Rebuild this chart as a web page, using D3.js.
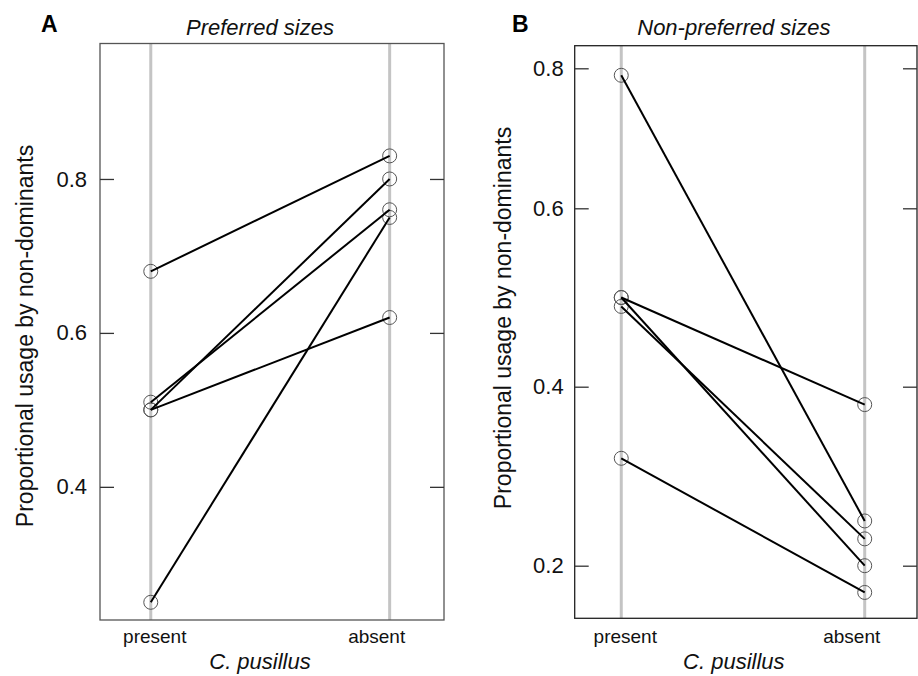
<html lang='en'>
    <head>
        <meta charset='utf-8'>
        <title>Proportional usage by non-dominants</title>
        <script src="https://d3js.org/d3.v7.min.js"></script>
        <style>
            body { margin: 0; background: #fff; }
            text { font-family: "Liberation Sans", Arial, sans-serif; fill: #111; }
        </style>
    </head>
    <body>
        <script>
            // categories on the x axis
            var groups = ["present", "absent"];

            // panel A: preferred sizes, one value per replicate in each group
            var prefPresent = [0.68, 0.51, 0.50, 0.50, 0.25];
            var prefAbsent  = [0.83, 0.76, 0.80, 0.62, 0.75];
            var prefTicks   = [0.4, 0.6, 0.8];

            // panel B: non-preferred sizes
            var nonPresent  = [0.79, 0.50, 0.50, 0.49, 0.32];
            var nonAbsent   = [0.25, 0.38, 0.20, 0.23, 0.17];
            var nonTicks    = [0.2, 0.4, 0.6, 0.8];

            var panelLetters = ["A", "B"];
            var panelTitles  = ["Preferred sizes", "Non-preferred sizes"];
            var yTitle = "Proportional usage by non-dominants";
            var xTitle = "C. pusillus";

            var width = 918;
            var height = 676;

            var svg = d3.select('body')
                        .append('svg')
                        .attr('width', width)
                        .attr('height', height);

            //layout of the two panels
            var panels = [
                {
                    letter: panelLetters[0], title: panelTitles[0],
                    present: prefPresent, absent: prefAbsent, ticks: prefTicks,
                    left: 100, right: 444, top: 43.5, bottom: 620,
                    pad: 0.22, align: 0.483, labelPad: 13,
                    yLabelX: 33, yLabelY: 336, letterX: 41,
                    boxColor: '#555',
                    y: d3.scaleLinear().domain([0.227, 0.976]).range([620, 43.5])
                },
                {
                    letter: panelLetters[1], title: panelTitles[1],
                    present: nonPresent, absent: nonAbsent, ticks: nonTicks,
                    left: 574.7, right: 917, top: 45.7, bottom: 618.3,
                    pad: 0.203, align: 0.471, labelPad: 11,
                    yLabelX: 511, yLabelY: 318, letterX: 512,
                    boxColor: '#222',
                    // the printed axis is not evenly spaced, so it is piecewise
                    y: d3.scaleLinear()
                         .domain([0.141, 0.2, 0.4, 0.6, 0.8, 0.832])
                         .range([618.3, 565.7, 386.7, 208.3, 68.3, 45.7])
                }
            ];

            panels.forEach(function(p) {
                var g = svg.append('g');

                var x = d3.scalePoint()
                          .domain(groups)
                          .range([p.left, p.right])
                          .padding(p.pad)
                          .align(p.align);
                var y = p.y;
                var mid = (p.left + p.right) / 2 - 12;

                //grey guide line for each group
                g.selectAll('.guide')
                 .data(groups)
                 .enter()
                 .append('line')
                 .attr('x1', function(d) { return x(d); })
                 .attr('x2', function(d) { return x(d); })
                 .attr('y1', p.top)
                 .attr('y2', p.bottom)
                 .style('stroke', '#c4c4c4')
                 .style('stroke-width', 3);

                //box round the plot
                g.append('rect')
                 .attr('x', p.left)
                 .attr('y', p.top)
                 .attr('width', p.right - p.left)
                 .attr('height', p.bottom - p.top)
                 .style('fill', 'none')
                 .style('stroke', p.boxColor)
                 .style('stroke-width', 1.3);

                //ticks point inwards on both sides
                var leftAxis = g.append('g')
                 .attr('transform', 'translate(' + p.left + ',0)')
                 .call(d3.axisLeft(y).tickValues(p.ticks).tickSize(-14)
                         .tickPadding(p.labelPad).tickFormat(d3.format('.1f')));
                leftAxis.select('.domain').remove();
                leftAxis.selectAll('line').style('stroke', '#333').style('stroke-width', 1.3);
                leftAxis.selectAll('text')
                        .style('font-size', '22px')
                        .style('font-family', '"Liberation Sans", Arial, sans-serif')
                        .style('fill', '#111');

                var rightAxis = g.append('g')
                 .attr('transform', 'translate(' + p.right + ',0)')
                 .call(d3.axisRight(y).tickValues(p.ticks).tickSize(-14).tickFormat(''));
                rightAxis.select('.domain').remove();
                rightAxis.selectAll('line').style('stroke', '#333').style('stroke-width', 1.3);

                //pairs of values joined by a line
                var pairs = p.present.map(function(v, i) {
                    return { a: v, b: p.absent[i] };
                });

                g.selectAll('.pt')
                 .data(p.present.map(function(v) { return [groups[0], v]; })
                        .concat(p.absent.map(function(v) { return [groups[1], v]; })))
                 .enter()
                 .append('circle')
                 .attr('cx', function(d) { return x(d[0]); })
                 .attr('cy', function(d) { return y(d[1]); })
                 .attr('r', 7)
                 .style('fill', 'none')
                 .style('stroke', '#555')
                 .style('stroke-width', 1);

                g.selectAll('.pair')
                 .data(pairs)
                 .enter()
                 .append('line')
                 .attr('x1', x(groups[0]))
                 .attr('x2', x(groups[1]))
                 .attr('y1', function(d) { return y(d.a); })
                 .attr('y2', function(d) { return y(d.b); })
                 .style('stroke', '#000')
                 .style('stroke-width', 2);

                //x labels sit a little inside the guide lines
                var shift = { present: 4, absent: -13 };
                g.selectAll('.xlab')
                 .data(groups)
                 .enter()
                 .append('text')
                 .attr('x', function(d) { return x(d) + shift[d]; })
                 .attr('y', 643)
                 .attr('text-anchor', 'middle')
                 .style('font-size', '19px')
                 .text(function(d) { return d; });

                g.append('text')
                 .attr('x', mid)
                 .attr('y', 669)
                 .attr('text-anchor', 'middle')
                 .style('font-size', '22px')
                 .style('font-style', 'italic')
                 .text(xTitle);

                g.append('text')
                 .attr('x', mid)
                 .attr('y', 35)
                 .attr('text-anchor', 'middle')
                 .style('font-size', '22px')
                 .style('font-style', 'italic')
                 .text(p.title);

                g.append('text')
                 .attr('x', p.letterX)
                 .attr('y', 32)
                 .style('font-size', '23px')
                 .style('font-weight', 'bold')
                 .style('fill', '#000')
                 .text(p.letter);

                g.append('text')
                 .attr('transform', 'translate(' + p.yLabelX + ',' + p.yLabelY + ') rotate(-90)')
                 .attr('text-anchor', 'middle')
                 .style('font-size', '23px')
                 .text(yTitle);
            });
        </script>
    </body>
</html>
